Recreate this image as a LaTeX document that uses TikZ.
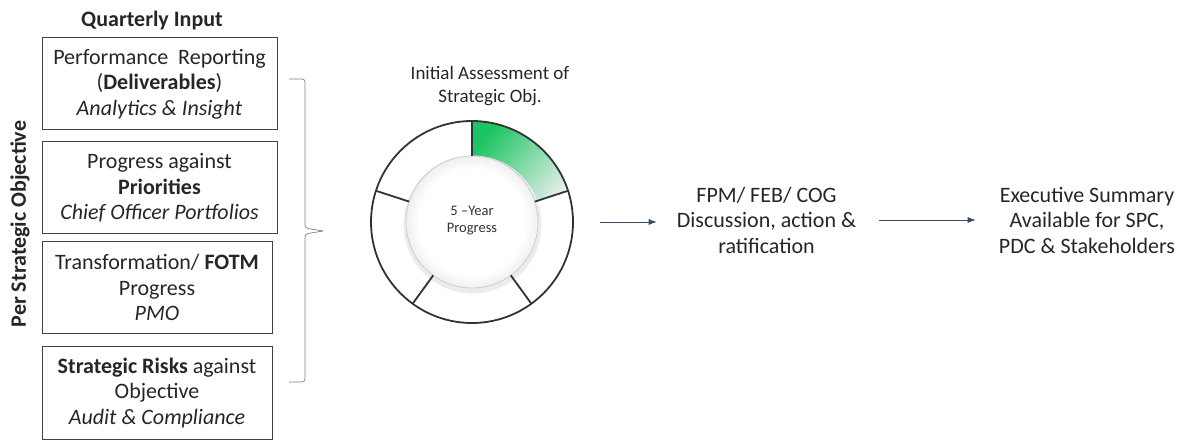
\documentclass[tikz,border=0pt]{standalone}
\usepackage{fontspec}
\setmainfont{Carlito}
\usetikzlibrary{arrows.meta, shadings}
\definecolor{boxline}{HTML}{404040}
\definecolor{arrowcol}{HTML}{3B4A63}
\definecolor{ringgreen}{HTML}{1CC463}
\pgfdeclareradialshading{ballshade}{\pgfpointorigin}{color(0bp)=(white); color(20bp)=(white); color(29bp)=(gray!22); color(35bp)=(gray!55); color(50bp)=(gray!55)}
\tikzstyle{every node}=[font=\fontsize{22}{25.5}\selectfont, text=black!85]
\tikzstyle{block} = [rectangle, draw=boxline, line width=1pt, align=center, minimum width=235pt, minimum height=92pt, inner sep=0pt]
\tikzstyle{note} = [align=center, inner sep=0pt]
\tikzstyle{line} = [draw=arrowcol, line width=0.8pt, -{Latex[length=8pt,width=6pt]}]
\tikzstyle{seg} = [draw=black!80, line width=1.8pt]
\tikzstyle{brace} = [draw=black!50, line width=0.7pt, rounded corners=3pt]

\begin{document}
\begin{tikzpicture}[x=1pt, y=1pt]
    \useasboundingbox (0,0) rectangle (1180,439);
    % Place nodes
    \node [font=\fontsize{22}{25}\selectfont\bfseries] (head) at (152,418) {Quarterly Input};
    \node [font=\fontsize{22}{25}\selectfont\bfseries, rotate=90] (side) at (20,215) {Per Strategic Objective};
    \node [block] (perf) at (159.5,355) {Performance\ \ Reporting\\(\textbf{Deliverables})\\\textit{Analytics \& Insight}};
    \node [block] (prio) at (159.5,251) {Progress against\\\textbf{Priorities}\\\textit{Chief Officer Portfolios}};
    \node [block, minimum width=230pt] (fotm) at (157,151.5) {Transformation/ \textbf{FOTM}\\Progress\\\textit{PMO}};
    \node [block, minimum width=230pt] (risk) at (157,46) {\textbf{Strategic Risks} against\\Objective\\\textit{Audit \& Compliance}};
    \node [note, font=\fontsize{19}{23}\selectfont] (assess) at (490,353) {Initial Assessment\ of\\Strategic Obj.};
    \node [circle, minimum size=202pt, inner sep=0pt] (ring) at (472,217) {};
    \node [note] (fpm) at (766.5,219) {FPM/ FEB/ COG\\Discussion, action \&\\ratification};
    \node [note] (exec) at (1087,219) {Executive Summary\\Available for SPC,\\PDC \& Stakeholders};
    % Progress wheel
    \shade [left color=ringgreen, middle color=ringgreen!20!gray!14, right color=gray!12, shading angle=50] (ring.center) ++(90:101) arc[start angle=90, end angle=18, radius=101] -- ++(198:35) arc[start angle=18, end angle=90, radius=66] -- cycle;
    \fill [gray!15] (ring.center) ++(0.5,-2.5) circle (69);
    \shade [shading=ballshade] (ring.center) circle (66);
    \draw [gray!45, line width=0.6pt] (ring.center) circle (66);
    \draw [seg] (ring.center) circle (101);
    \foreach \a in {90,18,-54,-126,162}
        \draw [seg] (ring.center) ++(\a:66) -- ++(\a:35);
    \node [note, font=\fontsize{14.5}{17}\selectfont, text=black!80] (wheel) at ([yshift=1pt]ring.center) {5 --Year\\Progress};
    % Draw edges
    \coordinate (brtop) at (289,360);
    \coordinate (brtip) at (323,208);
    \coordinate (brbot) at (289,57);
    \draw [brace] (brtop) -| (305,211) -- (brtip);
    \draw [brace] (brbot) -| (305,205) -- (brtip);
    \path [line, shorten <=27pt, shorten >=20pt] (ring) -- (ring -| fpm.west);
    \path [line, shorten <=23pt, shorten >=23pt] (fpm) -- (exec);
\end{tikzpicture}
\end{document}
